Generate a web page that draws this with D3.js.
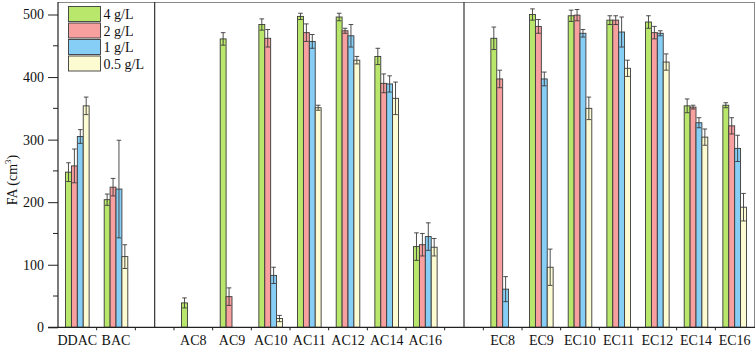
<!DOCTYPE html>
<html>
<head>
<meta charset="utf-8">
<script src="https://cdn.jsdelivr.net/npm/d3@7"></script>
<style>
  body { margin: 0; background: #fff; }
  text { font-family: "Liberation Serif", "Times New Roman", serif; }
</style>
</head>
<body>
<div id="chart"></div>
<script>
// Data
const slots = ['DDAC', 'BAC', 'gap1', 'AC8', 'AC9', 'AC10', 'AC11', 'AC12', 'AC14', 'AC16',
  'gap2', 'EC8', 'EC9', 'EC10', 'EC11', 'EC12', 'EC14', 'EC16'];
const categories = slots.filter(s => !s.startsWith('gap'));
const series = ['4 g/L', '2 g/L', '1 g/L', '0.5 g/L'];
const colors = ['#b9e76c', '#f89f9f', '#86cef5', '#fdfbd2'];

// values per series, in category order (null = no bar)
const v4 = [248, 204, 39, 461, 484, 497, 496, 433, 129, 462, 500, 498, 491, 488, 354, 355];
const v2 = [258, 224, null, 49, 462, 471, 474, 390, 132, 397, 481, 499, 491, 471, 352, 322];
const v1 = [305, 221, null, null, 83, 457, 466, 389, 145, 61, 397, 470, 472, 470, 327, 286];
const v05 = [354, 113, null, null, 14, 351, 427, 366, 128, null, 96, 350, 414, 424, 304, 192];
// error (+/-)
const e4 = [15, 9, 8, 10, 9, 5, 6, 13, 22, 18, 9, 9, 7, 10, 11, 4];
const e2 = [27, 14, null, 14, 14, 14, 4, 15, 18, 14, 11, 9, 7, 10, 3, 13];
const e1 = [11, 78, null, null, 13, 11, 18, 13, 22, 20, 11, 6, 24, 4, 8, 21];
const e05 = [14, 19, null, null, 5, 4, 6, 26, 14, null, 29, 18, 13, 13, 13, 22];

const values = [v4, v2, v1, v05];
const errors = [e4, e2, e1, e05];
const yTicks = [0, 100, 200, 300, 400, 500];

// Layout
const WIDTH = 756, HEIGHT = 349;
const LEFT = 58, RIGHT = 754, TOP = 2, BOTTOM = 327.3;

const svg = d3.select('#chart').append('svg')
  .attr('width', WIDTH)
  .attr('height', HEIGHT);

const x = d3.scaleBand().domain(slots).range([LEFT, RIGHT]).padding(0);
const groupW = 23.6;
const xs = d3.scaleBand().domain(series).range([-groupW / 2, groupW / 2]).padding(0);
const y = d3.scaleLinear().domain([0, 520]).range([BOTTOM, TOP]);

// Flatten data
const bars = [];
categories.forEach((c, i) => {
  series.forEach((s, j) => {
    const v = values[j][i];
    if (v == null) return;
    bars.push({ cat: c, s, j, v, e: errors[j][i] || 0 });
  });
});

// Frame: top line, dividers
svg.append('line')
  .attr('x1', LEFT).attr('x2', RIGHT + 1)
  .attr('y1', TOP + 0.5).attr('y2', TOP + 0.5)
  .attr('stroke', '#888').attr('stroke-width', 1);

svg.append('line')
  .attr('x1', RIGHT + 0.5).attr('x2', RIGHT + 0.5)
  .attr('y1', TOP).attr('y2', BOTTOM)
  .attr('stroke', '#888').attr('stroke-width', 1);

slots.filter(s => s.startsWith('gap')).forEach(g => {
  const gx = x(g) + x.bandwidth() / 2;
  svg.append('line')
    .attr('x1', gx).attr('x2', gx)
    .attr('y1', TOP).attr('y2', BOTTOM)
    .attr('stroke', '#333').attr('stroke-width', 1.2);
});

// Bars
const barG = svg.append('g');
barG.selectAll('rect')
  .data(bars)
  .join('rect')
  .attr('x', d => x(d.cat) + x.bandwidth() / 2 + xs(d.s))
  .attr('y', d => y(d.v))
  .attr('width', xs.bandwidth())
  .attr('height', d => y(0) - y(d.v))
  .attr('fill', d => colors[d.j])
  .attr('stroke', '#3a3a3a')
  .attr('stroke-width', 0.9);

// Error bars
const errG = svg.append('g')
  .attr('stroke', '#3a3a3a')
  .attr('stroke-width', 0.9);
bars.forEach(d => {
  const cx = x(d.cat) + x.bandwidth() / 2 + xs(d.s) + xs.bandwidth() / 2;
  const y1 = y(d.v + d.e), y2 = y(Math.max(0, d.v - d.e));
  errG.append('line').attr('x1', cx).attr('x2', cx).attr('y1', y1).attr('y2', y2);
  errG.append('line').attr('x1', cx - 2.3).attr('x2', cx + 2.3).attr('y1', y1).attr('y2', y1);
  errG.append('line').attr('x1', cx - 2.3).attr('x2', cx + 2.3).attr('y1', y2).attr('y2', y2);
});

// Y axis
const yAxis = svg.append('g')
  .attr('transform', `translate(${LEFT},0)`)
  .call(d3.axisLeft(y).tickValues(yTicks).tickSize(10).tickPadding(4));
yAxis.select('.domain').remove();
yAxis.selectAll('.tick line').attr('stroke', '#222');
yAxis.selectAll('.tick text')
  .attr('font-size', 14)
  .attr('fill', '#111')
  .style('font-family', '"Liberation Serif", serif');

// minor ticks
svg.append('g').selectAll('line')
  .data([50, 150, 250, 350, 450])
  .join('line')
  .attr('x1', LEFT - 5).attr('x2', LEFT)
  .attr('y1', d => y(d)).attr('y2', d => y(d))
  .attr('stroke', '#222');

svg.append('line')
  .attr('x1', LEFT).attr('x2', LEFT)
  .attr('y1', TOP).attr('y2', BOTTOM)
  .attr('stroke', '#222').attr('stroke-width', 1.2);

// X axis
svg.append('line')
  .attr('x1', LEFT - 10).attr('x2', RIGHT + 1)
  .attr('y1', BOTTOM).attr('y2', BOTTOM)
  .attr('stroke', '#222').attr('stroke-width', 1.2);

svg.append('g').selectAll('line')
  .data(slots.slice(1))
  .join('line')
  .attr('x1', d => x(d)).attr('x2', d => x(d))
  .attr('y1', BOTTOM).attr('y2', BOTTOM + 3)
  .attr('stroke', '#222');

svg.append('g').selectAll('text')
  .data(categories)
  .join('text')
  .attr('x', d => x(d) + x.bandwidth() / 2)
  .attr('y', 345)
  .attr('text-anchor', 'middle')
  .attr('font-size', 14)
  .attr('fill', '#111')
  .text(d => d);

// Y label
const yl = svg.append('text')
  .attr('transform', 'translate(17,180) rotate(-90)')
  .attr('text-anchor', 'middle')
  .attr('font-size', 14)
  .attr('fill', '#111');
yl.append('tspan').text('FA (cm');
yl.append('tspan').attr('font-size', 9).attr('dy', -6).text('3');
yl.append('tspan').attr('dy', 6).text(')');

// Legend
const legend = svg.append('g').attr('transform', 'translate(68.5,6.5)');
series.forEach((s, i) => {
  const g = legend.append('g').attr('transform', `translate(0,${i * 16.5})`);
  g.append('rect')
    .attr('width', 32).attr('height', 15)
    .attr('fill', colors[i])
    .attr('stroke', '#3a3a3a').attr('stroke-width', 0.9);
  g.append('text')
    .attr('x', 35).attr('y', 12.5)
    .attr('font-size', 14)
    .attr('fill', '#111')
    .text(s);
});
</script>
</body>
</html>
